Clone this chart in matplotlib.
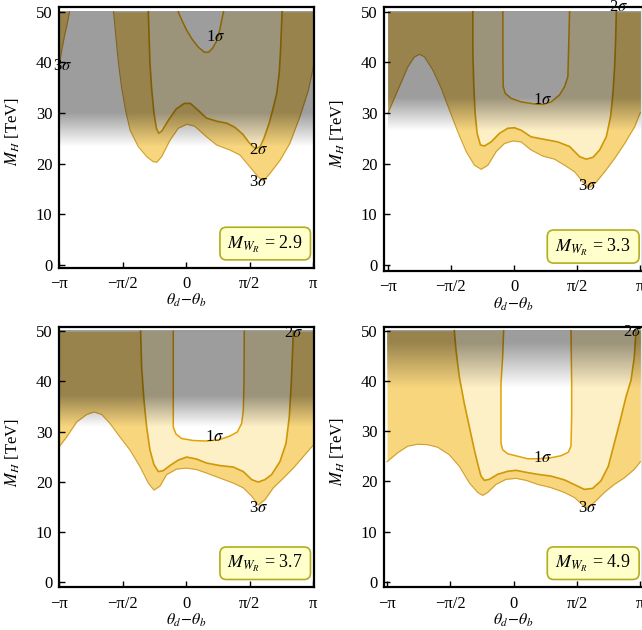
import matplotlib
matplotlib.use('Agg')
import matplotlib.pyplot as plt
import numpy as np
from matplotlib.patches import FancyBboxPatch

plt.rcParams['font.family'] = ['Liberation Serif', 'DejaVu Serif']
plt.rcParams['mathtext.fontset'] = 'stix'

PI = np.pi

mwr_values = ['2.9', '3.3', '3.7', '4.9']
xtick_vals = [-PI, -PI / 2, 0, PI / 2, PI]
xtick_labels = ['\u2212\u03c0', '\u2212\u03c0/2', '0', '\u03c0/2', '\u03c0']
ytick_vals = [0, 10, 20, 30, 40, 50]

# ---------- panel 1 : M_WR = 2.9 ----------
p1_s3_x = [-1.80, -1.74, -1.68, -1.60, -1.50, -1.39, -1.19, -0.98, -0.82, -0.73, -0.61, -0.40,
           -0.20, 0.01, 0.21, 0.50, 0.75, 1.08, 1.33, 1.57, 1.78, 1.905, 2.07, 2.32, 2.56, 2.81,
           3.02, PI]
p1_s3_y = [50.0, 45.0, 40.0, 35.0, 30.5, 26.6, 23.4, 21.4, 20.4, 20.3, 21.4, 24.7,
           27.0, 27.8, 27.4, 25.3, 23.7, 22.7, 21.7, 19.4, 17.4, 16.6, 18.1, 20.7, 24.0, 29.3,
           34.5, 39.1]
p1_s3b_x = [-PI, -3.08, -3.02, -2.95, -2.89]
p1_s3b_y = [39.5, 42.5, 45.0, 47.5, 50.0]
p1_s2_x = [-0.94, -0.92, -0.90, -0.86, -0.80, -0.74, -0.68, -0.60, -0.45, -0.25, -0.05, 0.10,
           0.30, 0.50, 0.75, 1.00, 1.20, 1.40, 1.55, 1.70, 1.82, 1.92, 2.05, 2.15, 2.24, 2.30,
           2.33, 2.35, 2.37]
p1_s2_y = [50.0, 45.0, 40.0, 35.0, 30.0, 27.0, 26.0, 26.5, 28.5, 30.8, 31.9, 31.9,
           30.5, 29.0, 28.4, 28.0, 27.2, 25.8, 24.2, 23.0, 23.3, 25.0, 28.0, 31.0, 34.0, 38.0,
           42.0, 46.0, 50.0]
p1_s1_x = [-0.20, -0.12, 0.00, 0.15, 0.30, 0.45, 0.55, 0.65, 0.75, 0.83, 0.88, 0.92]
p1_s1_y = [50.0, 48.5, 46.5, 44.5, 43.0, 42.0, 42.0, 42.8, 44.2, 46.5, 48.5, 50.0]

# ---------- panel 2 : M_WR = 3.3 ----------
p2_s3_x = [-PI, -2.893, -2.643, -2.477, -2.353, -2.228, -2.02, -1.81, -1.606, -1.398, -1.19,
           -0.984, -0.818, -0.652, -0.444, -0.237, -0.029, 0.178, 0.427, 0.718, 1.008, 1.258,
           1.507, 1.714, 1.880, 2.046, 2.254, 2.503, 2.752, 3.0, PI]
p2_s3_y = [29.9, 34.5, 39.1, 41.1, 41.6, 41.1, 38.5, 34.9, 30.6, 26.3, 22.4,
           19.7, 18.9, 19.7, 22.4, 24.0, 24.5, 24.3, 22.7, 21.5, 20.9, 19.7,
           18.4, 16.4, 15.3, 16.4, 18.4, 21.05, 24.0, 27.3, 30.1]
p2_s2_x = [-1.025, -1.025, -1.0, -0.967, -0.917, -0.835, -0.735, -0.569, -0.361, -0.154, 0.012,
           0.178, 0.427, 0.759, 1.09, 1.381, 1.631, 1.797, 1.963, 2.129, 2.295, 2.403, 2.461,
           2.503, 2.528, 2.545]
p2_s2_y = [50.0, 42.4, 35.2, 29.9, 26.0, 23.7, 23.5, 24.3, 26.0, 27.0, 27.1,
           26.6, 25.3, 24.8, 24.3, 23.4, 21.4, 20.9, 21.25, 22.7, 25.3, 29.3, 33.9,
           39.1, 44.4, 50.0]
p2_s1_x = [-0.277, -0.277, -0.269, -0.219, -0.071, 0.178, 0.51, 0.718, 0.925, 1.133, 1.258,
           1.34, 1.357, 1.382]
p2_s1_y = [50.0, 42.4, 35.2, 33.9, 32.9, 32.2, 31.8, 31.7, 32.2, 33.6, 35.2,
           37.2, 42.4, 50.0]

# ---------- panel 3 : M_WR = 3.7 ----------
p3_s3_x = [-PI, -2.96, -2.713, -2.465, -2.284, -2.094, -1.888, -1.641, -1.393, -1.146, -0.94,
           -0.80, -0.652, -0.487, -0.239, 0.008, 0.255, 0.503, 0.833, 1.163, 1.41, 1.616,
           1.781, 1.946, 2.152, 2.40, 2.647, 2.894, PI]
p3_s3_y = [27.0, 28.9, 31.9, 33.4, 33.9, 33.4, 31.6, 28.9, 26.3, 23.0, 19.7,
           18.3, 19.1, 21.4, 22.5, 22.7, 22.4, 21.7, 20.7, 19.7, 18.75, 17.1,
           15.3, 16.4, 18.75, 20.7, 22.7, 25.0, 27.3]
p3_s2_x = [-1.13, -1.105, -1.047, -0.981, -0.899, -0.80, -0.693, -0.569, -0.404, -0.198, 0.008,
           0.255, 0.503, 0.833, 1.163, 1.41, 1.616, 1.781, 1.946, 2.111, 2.317, 2.466, 2.548,
           2.597, 2.63, 2.647]
p3_s2_y = [50.0, 42.8, 36.2, 30.9, 26.3, 23.4, 22.0, 22.2, 23.2, 24.3, 24.9,
           24.5, 23.7, 23.2, 22.9, 22.0, 20.4, 19.9, 20.4, 21.4, 24.0, 27.6, 32.9,
           39.5, 46.1, 50.0]
p3_s1_x = [-0.322, -0.322, -0.322, -0.256, -0.116, 0.173, 0.503, 0.833, 1.08, 1.262, 1.369,
           1.41, 1.427, 1.435]
p3_s1_y = [50.0, 39.5, 30.9, 29.5, 28.6, 28.2, 28.1, 28.4, 29.1, 29.9, 31.6,
           34.2, 39.5, 50.0]

# ---------- panel 4 : M_WR = 4.9 ----------
p4_s3_x = [-PI, -2.877, -2.629, -2.381, -2.133, -1.885, -1.596, -1.348, -1.1, -0.893, -0.769,
           -0.645, -0.438, -0.19, 0.058, 0.306, 0.595, 0.926, 1.257, 1.505, 1.712, 1.836,
           2.001, 2.249, 2.497, 2.745, 2.993, PI]
p4_s3_y = [23.9, 25.7, 27.0, 27.4, 27.3, 26.8, 25.3, 23.0, 19.7, 17.8, 17.2,
           17.8, 19.4, 20.4, 20.6, 20.2, 19.4, 18.75, 17.8, 16.8, 15.3, 14.8,
           15.8, 17.8, 19.4, 20.7, 22.4, 23.9]
p4_s2_x = [-1.472, -1.43, -1.348, -1.224, -1.1, -0.976, -0.876, -0.81, -0.727, -0.603, -0.397,
           -0.149, 0.058, 0.306, 0.595, 0.926, 1.257, 1.546, 1.753, 1.96, 2.166, 2.348, 2.497,
           2.646, 2.786, 2.91, 2.993, 3.034]
p4_s2_y = [50.0, 46.1, 40.8, 35.5, 30.9, 26.3, 23.0, 21.05, 20.2, 20.4, 21.4,
           22.0, 22.2, 21.8, 21.4, 21.05, 20.3, 19.2, 18.4, 18.6, 20.1, 23.0, 27.6,
           32.2, 36.8, 40.1, 44.7, 50.0]
p4_s1_x = [-0.248, -0.273, -0.314, -0.314, -0.314, -0.273, -0.149, 0.099, 0.347, 0.595, 0.926,
           1.174, 1.356, 1.422, 1.439, 1.439, 1.422]
p4_s1_y = [50.0, 44.7, 39.5, 32.9, 27.6, 26.3, 25.5, 25.0, 24.5, 24.5, 24.7,
           25.1, 25.8, 27.0, 32.9, 39.5, 50.0]

# gray (excluded) band: fully dark above gray_full, fading out at gray_zero
gray_full = [30.0, 33.0, 37.0, 47.5]
gray_zero = [23.3, 26.5, 30.8, 38.5]

# sigma label positions
lab_text = ['1$\\sigma$', '2$\\sigma$', '3$\\sigma$']
p1_lab = [(0.72, 45.0), (1.78, 22.7), (1.80, 16.3)]
p2_lab = [(0.72, 32.6), (2.59, 51.0), (1.84, 15.6)]
p3_lab = [(0.71, 28.9), (2.65, 49.7), (1.78, 14.8)]
p4_lab = [(0.72, 24.7), (2.95, 49.7), (1.84, 14.6)]

band3 = '#F8D67E'
band2 = '#FDEFC6'
line3 = '#D2A030'
line2 = '#CF9808'
line1 = '#E2A404'
shade_alpha = 0.385

fig = plt.figure(figsize=(6.42, 6.30), dpi=100)
W, H = 642.0, 630.0
# axes boxes in pixels: left, right, top, bottom
boxes = [(59.3, 314.3, 6.7, 267.7), (384.3, 643.0, 6.7, 271.0),
         (59.3, 314.3, 327.3, 587.3), (384.3, 643.0, 326.7, 587.3)]
xlims = [(-PI, PI + 0.025), (-PI - 0.085, PI + 0.067), (-PI, PI + 0.025), (-PI - 0.067, PI + 0.067)]
ylims = [(-0.53, 51.0), (-1.18, 51.0), (-1.1, 50.8), (-1.1, 50.8)]

panels = [
    ([(p1_s3_x, p1_s3_y), (p1_s3b_x, p1_s3b_y)], (p1_s2_x, p1_s2_y), (p1_s1_x, p1_s1_y), p1_lab),
    ([(p2_s3_x, p2_s3_y)], (p2_s2_x, p2_s2_y), (p2_s1_x, p2_s1_y), p2_lab),
    ([(p3_s3_x, p3_s3_y)], (p3_s2_x, p3_s2_y), (p3_s1_x, p3_s1_y), p3_lab),
    ([(p4_s3_x, p4_s3_y)], (p4_s2_x, p4_s2_y), (p4_s1_x, p4_s1_y), p4_lab),
]

for i, (s3_list, s2, s1, labs) in enumerate(panels):
    l, r, t, b = boxes[i]
    ax = fig.add_axes([l / W, (H - b) / H, (r - l) / W, (b - t) / H])

    for sx, sy in s3_list:
        ax.fill_between(sx, sy, 50, color=band3, lw=0, zorder=1)
    ax.fill(s2[0], s2[1], color=band2, lw=0, zorder=1.1)
    ax.fill(s1[0], s1[1], color='white', lw=0, zorder=1.2)
    for sx, sy in s3_list:
        ax.plot(sx, sy, color=line3, lw=0.8, zorder=1.5)
    ax.plot(s2[0], s2[1], color=line2, lw=1.2, zorder=1.5)
    ax.plot(s1[0], s1[1], color=line1, lw=1.1, zorder=1.5)

    # dark translucent band with a soft lower edge
    lo, hi = gray_zero[i], gray_full[i]
    yy = np.linspace(50, lo, 300)
    shade = np.zeros((300, 1, 4))
    shade[:, 0, 3] = np.interp(yy, [lo, hi], [0.0, shade_alpha])
    ax.imshow(shade, extent=[-PI, PI, lo, 50], origin='upper', aspect='auto',
              interpolation='bilinear', zorder=2)

    for txt, (lx, ly) in zip(lab_text, labs):
        ax.text(lx, ly, txt, fontsize=12, ha='center', va='center', color='black', zorder=2.2)
    if i == 0:
        ax.text(-3.07, 39.2, '3$\\sigma$', fontsize=12, ha='center', va='center', zorder=2.2)

    box = FancyBboxPatch((0.63, 0.03), 0.355, 0.125, boxstyle='round,pad=0,rounding_size=0.025',
                         transform=ax.transAxes, facecolor='#FFFFCC', edgecolor='#B3AD1E',
                         lw=1.2, zorder=3)
    ax.add_patch(box)
    ax.text(0.8075, 0.09, '$M_{W_R}$ = ' + mwr_values[i], transform=ax.transAxes,
            ha='center', va='center', fontsize=13, zorder=4)

    ax.set_xlim(*xlims[i])
    ax.set_ylim(*ylims[i])
    ax.set_xticks(xtick_vals)
    ax.set_xticklabels(xtick_labels)
    ax.set_yticks(ytick_vals)
    ax.tick_params(direction='in', length=4, width=1, top=False, right=False,
                   labelsize=12, color='black')
    ax.tick_params(axis='x', pad=6)
    ax.tick_params(axis='y', pad=5)
    for sp in ax.spines.values():
        sp.set_linewidth(1.6)
    ax.set_xlabel('$\\theta_d\\!-\\!\\theta_b$', fontsize=11.5)
    ax.set_ylabel('$M_H$ [TeV]', fontsize=12)
    ax.xaxis.set_label_coords(0.5, -0.093)
    ax.yaxis.set_label_coords(-0.145, 0.52)

fig.savefig('out.png', dpi=100)
